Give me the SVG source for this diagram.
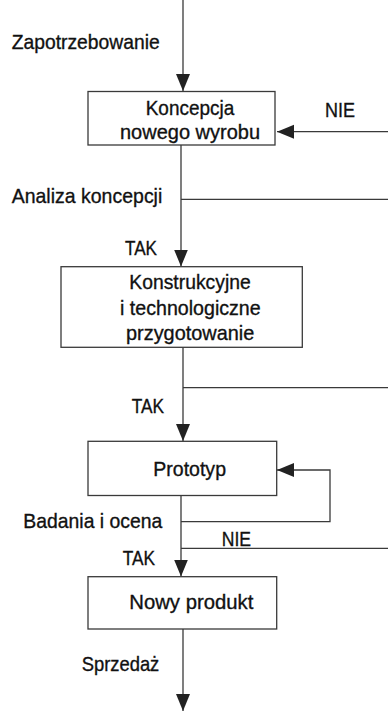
<svg xmlns="http://www.w3.org/2000/svg" width="388" height="711" viewBox="0 0 388 711">
<style>
.box{fill:#fff;stroke:#3a3a3a;stroke-width:1.3}
.ln{fill:none;stroke:#3a3a3a;stroke-width:1.3}
.t{font-family:"Liberation Sans",Arial,sans-serif;font-size:21px;fill:#111;stroke:#111;stroke-width:0.35}
</style>
<defs>
<marker id="ah" markerUnits="userSpaceOnUse" markerWidth="18" markerHeight="15" refX="17" refY="7" orient="auto">
<path d="M0,0 L17,7 L0,14 z" fill="#222"/>
</marker>
</defs>
<rect width="388" height="711" fill="#fff"/>
<g id="connectors">
<line class="ln" x1="183" y1="0" x2="183" y2="91" marker-end="url(#ah)"/>
<line class="ln" x1="388" y1="131.7" x2="277" y2="131.7" marker-end="url(#ah)"/>
<line class="ln" x1="181" y1="145" x2="181" y2="266.5" marker-end="url(#ah)"/>
<line class="ln" x1="181" y1="199.3" x2="388" y2="199.3"/>
<line class="ln" x1="183" y1="347" x2="183" y2="441" marker-end="url(#ah)"/>
<line class="ln" x1="183" y1="387.7" x2="388" y2="387.7"/>
<polyline class="ln" points="181,521.7 330,521.7 330,470 277,470" marker-end="url(#ah)"/>
<line class="ln" x1="181" y1="495.5" x2="181" y2="576.5" marker-end="url(#ah)"/>
<line class="ln" x1="181" y1="548.3" x2="388" y2="548.3"/>
<line class="ln" x1="183" y1="629" x2="183" y2="711" marker-end="url(#ah)"/>
</g>
<g id="lbl-zapotrzebowanie"><text class="t" x="11.7" y="49.3" textLength="148" lengthAdjust="spacingAndGlyphs">Zapotrzebowanie</text></g>
<g id="node-koncepcja">
<rect class="box" x="88" y="91.5" width="187" height="53.5"/>
<text class="t" x="145.7" y="115" textLength="88.6" lengthAdjust="spacingAndGlyphs">Koncepcja</text>
<text class="t" x="120" y="138.5" textLength="140" lengthAdjust="spacingAndGlyphs">nowego wyrobu</text>
</g>
<g id="lbl-nie1"><text class="t" x="325" y="116.7" textLength="30" lengthAdjust="spacingAndGlyphs">NIE</text></g>
<g id="lbl-analiza"><text class="t" x="11.7" y="203.3" textLength="150.6" lengthAdjust="spacingAndGlyphs">Analiza koncepcji</text></g>
<g id="lbl-tak1"><text class="t" x="125" y="254.5" textLength="32" lengthAdjust="spacingAndGlyphs">TAK</text></g>
<g id="node-konstrukcyjne">
<rect class="box" x="61" y="266.7" width="241.3" height="80.6"/>
<text class="t" x="129.3" y="289.3" textLength="121.4" lengthAdjust="spacingAndGlyphs">Konstrukcyjne</text>
<text class="t" x="120" y="315" textLength="140.7" lengthAdjust="spacingAndGlyphs">i technologiczne</text>
<text class="t" x="126" y="340" textLength="128.3" lengthAdjust="spacingAndGlyphs">przygotowanie</text>
</g>
<g id="lbl-tak2"><text class="t" x="131.7" y="412.7" textLength="32.3" lengthAdjust="spacingAndGlyphs">TAK</text></g>
<g id="node-prototyp">
<rect class="box" x="88" y="441.3" width="188.7" height="54.2"/>
<text class="t" x="153.3" y="475.5" textLength="72.7" lengthAdjust="spacingAndGlyphs">Prototyp</text>
</g>
<g id="lbl-badania"><text class="t" x="23.3" y="528.3" textLength="139" lengthAdjust="spacingAndGlyphs">Badania i ocena</text></g>
<g id="lbl-nie2"><text class="t" x="221.7" y="545.7" textLength="29.3" lengthAdjust="spacingAndGlyphs">NIE</text></g>
<g id="lbl-tak3"><text class="t" x="122.7" y="565" textLength="32.3" lengthAdjust="spacingAndGlyphs">TAK</text></g>
<g id="node-nowy">
<rect class="box" x="88" y="576.7" width="188.7" height="52.3"/>
<text class="t" x="129.3" y="609" textLength="124" lengthAdjust="spacingAndGlyphs">Nowy produkt</text>
</g>
<g id="lbl-sprzedaz"><text class="t" x="81.7" y="670.7" textLength="77.6" lengthAdjust="spacingAndGlyphs">Sprzedaż</text></g>
</svg>
